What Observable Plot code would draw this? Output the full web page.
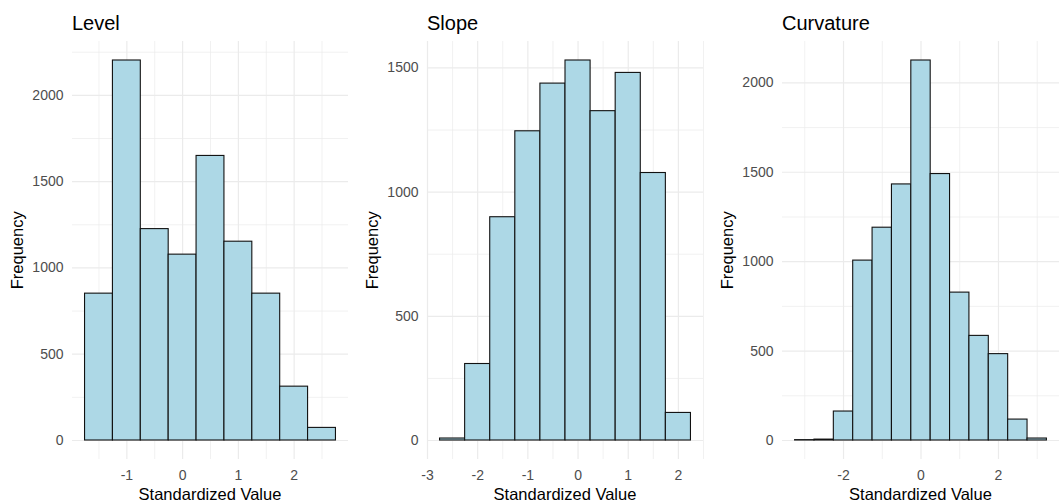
<!DOCTYPE html>
<html>
<head>
<meta charset="utf-8">
<script src="https://cdn.jsdelivr.net/npm/d3@7"></script>
<script src="https://cdn.jsdelivr.net/npm/@observablehq/plot@0.6"></script>
<style>
  body { margin: 0; background: #fff; font-family: "Liberation Sans", Arial, sans-serif; }
  #wrap { position: relative; width: 1063px; height: 504px; overflow: hidden; background: #fff; }
  .panel { position: absolute; top: 0; }
  .title { position: absolute; font-size: 20px; line-height: 20px; color: #000; white-space: nowrap; }
  .xlab { position: absolute; font-size: 16.5px; line-height: 16.5px; color: #000; white-space: nowrap; text-align: center; width: 300px; }
  .ylab { position: absolute; font-size: 16.5px; line-height: 16.5px; color: #000; white-space: nowrap; text-align: center; width: 200px; transform: rotate(-90deg); }
</style>
</head>
<body>
<div id="wrap"></div>
<script>
// Histograms of the standardized factor scores (bin width 0.5)
const binWidth = 0.5;

const levelCenters = [-1.5, -1, -0.5, 0, 0.5, 1, 1.5, 2, 2.5];
const levelCounts  = [851, 2202, 1225, 1077, 1649, 1152, 851, 312, 73];

const slopeCenters = [-2.5, -2, -1.5, -1, -0.5, 0, 0.5, 1, 1.5, 2];
const slopeCounts  = [8, 308, 899, 1245, 1437, 1530, 1326, 1480, 1077, 111];

const curvatureCenters = [-3, -2.5, -2, -1.5, -1, -0.5, 0, 0.5, 1, 1.5, 2, 2.5, 3];
const curvatureCounts  = [2, 5, 162, 1006, 1190, 1432, 2125, 1490, 827, 585, 483, 117, 11];

const levelXTicks = [-1, 0, 1, 2];
const levelXMinor = [-1.5, -0.5, 0.5, 1.5, 2.5];
const levelYTicks = [0, 500, 1000, 1500, 2000];
const levelYMinor = [250, 750, 1250, 1750, 2250];

const slopeXTicks = [-3, -2, -1, 0, 1, 2];
const slopeXMinor = [-2.5, -1.5, -0.5, 0.5, 1.5, 2.5];
const slopeYTicks = [0, 500, 1000, 1500];
const slopeYMinor = [250, 750, 1250];

const curvatureXTicks = [-2, 0, 2];
const curvatureXMinor = [-3, -1, 1, 3];
const curvatureYTicks = [0, 500, 1000, 1500, 2000];
const curvatureYMinor = [250, 750, 1250, 1750];

const panels = [
  {title: "Level", centers: levelCenters, counts: levelCounts, xTicks: levelXTicks, xMinor: levelXMinor, yTicks: levelYTicks, yMinor: levelYMinor, left: 0, width: 355, marginRight: 7},
  {title: "Slope", centers: slopeCenters, counts: slopeCounts, xTicks: slopeXTicks, xMinor: slopeXMinor, yTicks: slopeYTicks, yMinor: slopeYMinor, left: 355, width: 355, marginRight: 7},
  {title: "Curvature", centers: curvatureCenters, counts: curvatureCounts, xTicks: curvatureXTicks, xMinor: curvatureXMinor, yTicks: curvatureYTicks, yMinor: curvatureYMinor, left: 710, width: 353, marginRight: 4}
];

const H = 504, MT = 41, MB = 45, ML = 72;
const gridColor = "#ebebeb";
const wrap = document.getElementById("wrap");

for (const p of panels) {
  const lo = d3.min(p.centers) - binWidth / 2;
  const hi = d3.max(p.centers) + binWidth / 2;
  const pad = (hi - lo) * 0.05;
  const ymax = d3.max(p.counts);
  const bins = p.centers.map((c, i) => ({x1: c - binWidth / 2, x2: c + binWidth / 2, count: p.counts[i]}));

  const chart = Plot.plot({
    width: p.width,
    height: H,
    marginTop: MT,
    marginBottom: MB,
    marginLeft: ML,
    marginRight: p.marginRight,
    style: {fontFamily: "'Liberation Sans', Arial, sans-serif", fontSize: "14px", color: "#4d4d4d", background: "transparent", overflow: "visible"},
    x: {domain: [lo - pad, hi + pad], ticks: p.xTicks, tickSize: 0, tickPadding: 11, label: null, tickFormat: d => String(d)},
    y: {domain: [-0.05 * ymax, 1.05 * ymax], ticks: p.yTicks, tickSize: 0, tickPadding: 9, label: null, tickFormat: d => String(d)},
    marks: [
      Plot.ruleX(p.xMinor, {stroke: gridColor, strokeWidth: 0.7}),
      Plot.ruleY(p.yMinor, {stroke: gridColor, strokeWidth: 0.7}),
      Plot.ruleX(p.xTicks, {stroke: gridColor, strokeWidth: 1.2}),
      Plot.ruleY(p.yTicks, {stroke: gridColor, strokeWidth: 1.2}),
      Plot.rectY(bins, {x1: "x1", x2: "x2", y1: 0, y2: "count", inset: 0, fill: "#add8e6", stroke: "#111", strokeWidth: 1.1})
    ]
  });
  chart.classList.add("panel");
  chart.style.left = p.left + "px";
  wrap.appendChild(chart);

  const panelLeft = p.left + ML;
  const panelRight = p.left + p.width - p.marginRight;

  const t = document.createElement("div");
  t.className = "title";
  t.textContent = p.title;
  t.style.left = panelLeft + "px";
  t.style.top = "12.5px";
  wrap.appendChild(t);

  const xl = document.createElement("div");
  xl.className = "xlab";
  xl.textContent = "Standardized Value";
  xl.style.left = ((panelLeft + panelRight) / 2 - 150) + "px";
  xl.style.top = "485.5px";
  wrap.appendChild(xl);

  const yl = document.createElement("div");
  yl.className = "ylab";
  yl.textContent = "Frequency";
  yl.style.left = (panelLeft - 55.5 - 100) + "px";
  yl.style.top = ((MT + H - MB) / 2 - 8.25) + "px";
  wrap.appendChild(yl);
}
</script>
</body>
</html>
